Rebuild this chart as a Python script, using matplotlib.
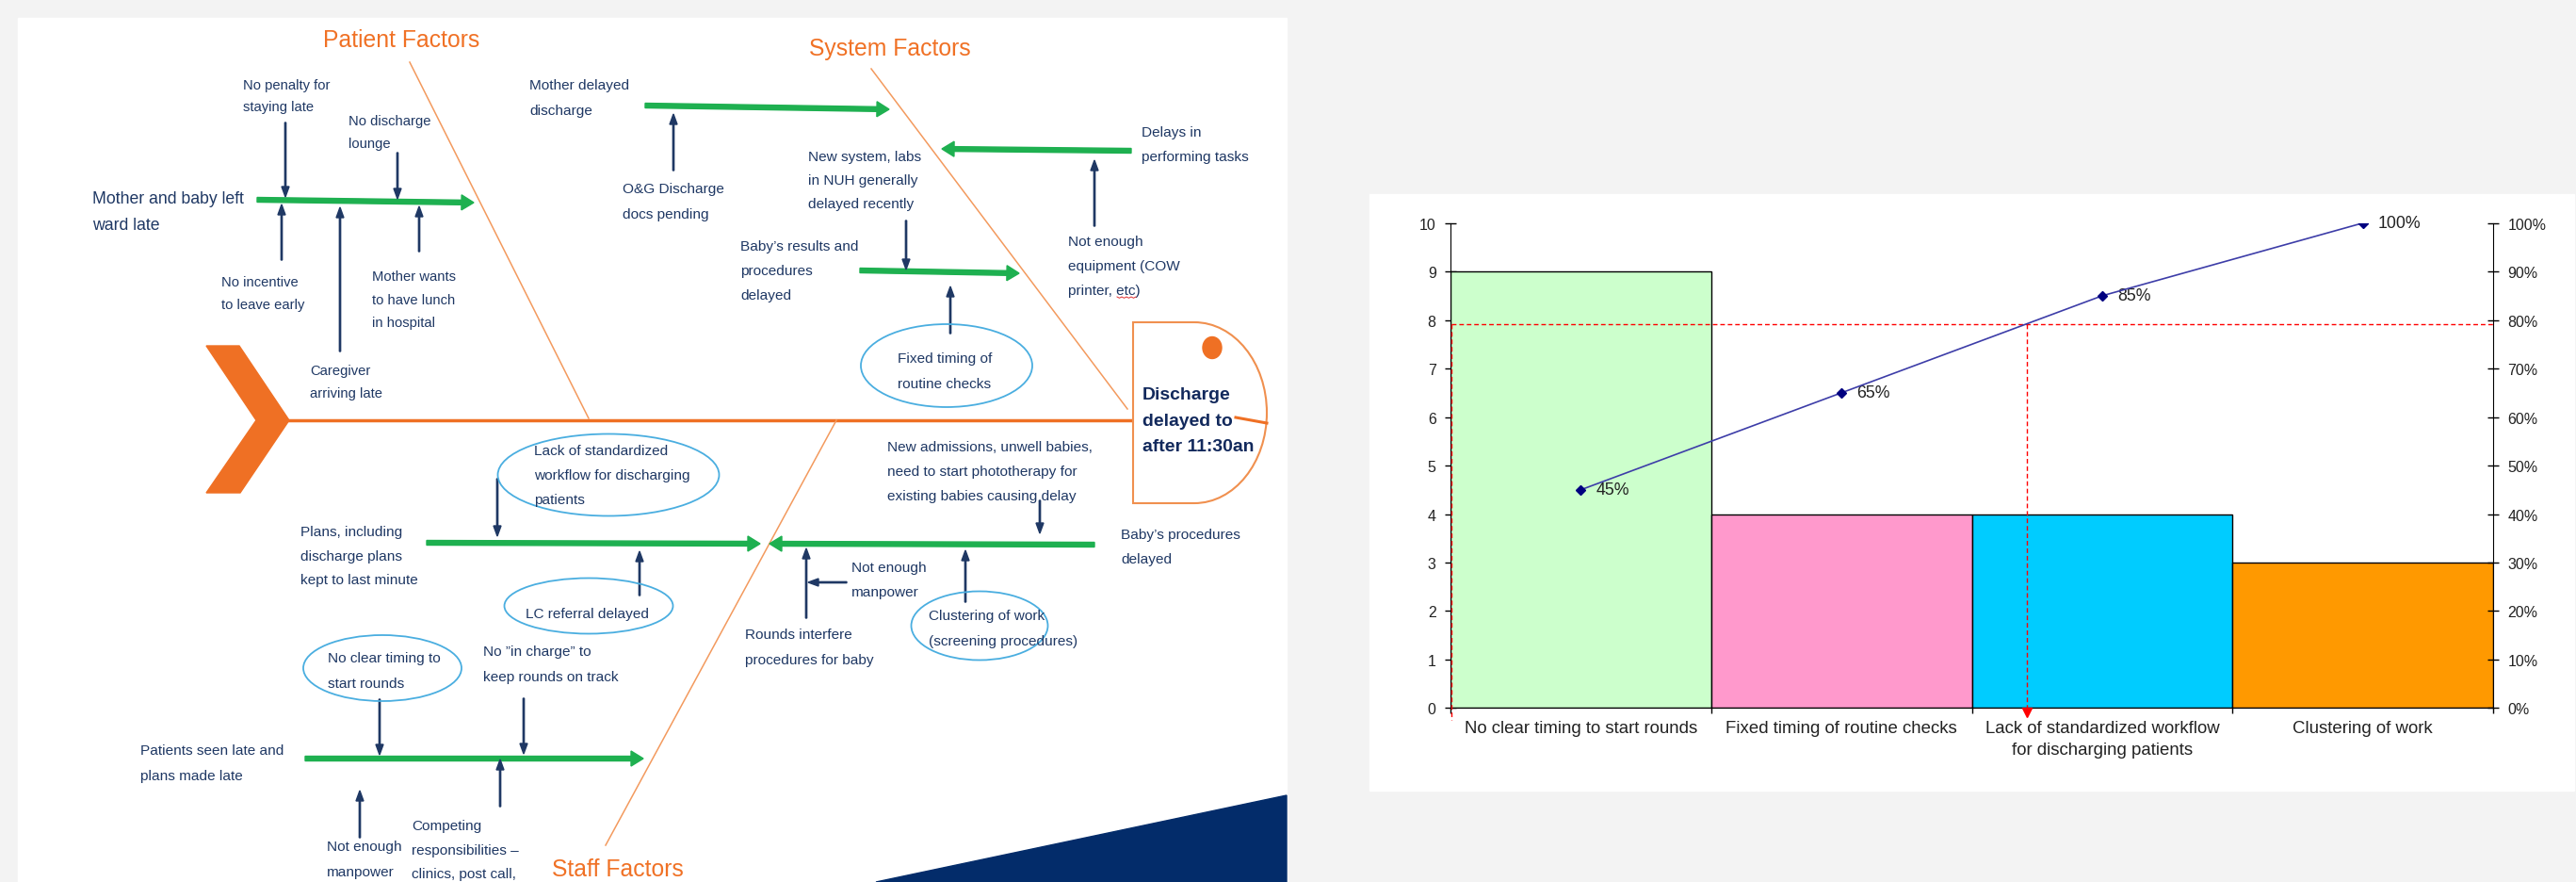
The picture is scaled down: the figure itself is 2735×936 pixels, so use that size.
import numpy as np
import matplotlib
matplotlib.use("Agg")
import matplotlib.pyplot as plt
from matplotlib import font_manager as fm
from matplotlib.patches import Polygon, Ellipse, Rectangle, PathPatch
from matplotlib.path import Path

# ---- pareto data ----
causes = ["No clear timing to start rounds", "Fixed timing of routine checks",
          "Lack of standardized workflow\nfor discharging patients", "Clustering of work"]
counts = [9, 4, 4, 3]
cum_pct = [45, 65, 85, 100]
cutoff_pct = 79.2
bar_colors = ["#ccffcc", "#ff99cc", "#00ccff", "#ff9900"]

# ---- fishbone text ----
headings = ["Patient Factors", "System Factors", "Staff Factors"]
effect = "Discharge\ndelayed to\nafter 11:30an"

W, H = 2735, 937
NAVY = "#1f3864"
GREEN = "#1eb050"
ORANGE = "#ef7024"
BONE = "#f39a5e"
BLUE = "#4aaee0"
ARIAL = ["Liberation Sans", "DejaVu Sans"]


def has_font(name):
    try:
        fm.findfont(fm.FontProperties(family=name), fallback_to_default=False)
        return True
    except ValueError:
        return False


# the slide text is a narrow face; fall back to Arial metrics scaled down to keep widths
if has_font("Liberation Sans Narrow"):
    NARROW, WS = ["Liberation Sans Narrow"], 1.0
else:
    NARROW, WS = ["Liberation Sans"], 0.82

fig = plt.figure(figsize=(W / 100, H / 100), dpi=100, facecolor="#f3f3f3")
ax = fig.add_axes([0, 0, 1, 1])
ax.set_xlim(0, W)
ax.set_ylim(H, 0)
ax.axis("off")

# panels
ax.add_patch(Rectangle((19, 20), 1347, H - 20, color="white", zorder=0))
ax.add_patch(Rectangle((1454, 207), 1279, 633, color="white", zorder=0))
ax.add_patch(Polygon([(930, H), (1366, 845), (1366, H)], color="#032c6a", zorder=1))


def lab(x, y, text, dy=26, size=13.5, ha="left", color=NAVY, weight="normal"):
    for i, s in enumerate(text.split("\n")):
        ax.text(x, y + i * dy, s, fontsize=size * WS, family=NARROW, color=color, ha=ha,
                va="center_baseline", fontweight=weight, zorder=5)


def garrow(x0, y0, x1, y1):
    ax.arrow(x0, y0, x1 - x0, y1 - y0, width=5, head_width=16, head_length=13,
             length_includes_head=True, color=GREEN, zorder=3)


def navy_arrow(x0, y0, x1, y1):
    ax.arrow(x0, y0, x1 - x0, y1 - y0, width=1.3, head_width=8, head_length=11,
             length_includes_head=True, color=NAVY, zorder=4)


# spine, chevron, bones
ax.add_patch(Polygon([(219, 368), (254, 368), (307, 447), (255, 524), (219, 524), (272, 447)],
                     color=ORANGE, zorder=2))
ax.plot([305, 1203], [447, 447], color=ORANGE, lw=2.5, zorder=2)
ax.plot([435, 625], [67, 445], color=BONE, lw=1.1, zorder=2)
ax.plot([925, 1197], [74, 435], color=BONE, lw=1.1, zorder=2)
ax.plot([888, 643], [447, 898], color=BONE, lw=1.1, zorder=2)

# head
cx, rx, top, bot = 1268, 77, 343, 535
cy, ry = (top + bot) / 2, (bot - top) / 2
k = 0.5523
verts = [(1203, top), (cx, top), (cx + k * rx, top), (cx + rx, cy - k * ry), (cx + rx, cy),
         (cx + rx, cy + k * ry), (cx + k * rx, bot), (cx, bot), (1203, bot), (1203, top)]
codes = [Path.MOVETO, Path.LINETO, Path.CURVE4, Path.CURVE4, Path.CURVE4,
         Path.CURVE4, Path.CURVE4, Path.CURVE4, Path.LINETO, Path.CLOSEPOLY]
ax.add_patch(PathPatch(Path(verts, codes), facecolor="white", edgecolor="#f0904f", lw=1.5, zorder=2))
ax.add_patch(Ellipse((1287, 370), 20, 23, color=ORANGE, zorder=3))
ax.plot([1312, 1345], [444, 450], color=ORANGE, lw=2.2, zorder=3)
lab(1213, 418, effect, dy=27.5, size=17, weight="bold", color="#12295c")

# headings
for s, (x, y) in zip(headings, [(426, 41), (945, 50), (656, 921)]):
    ax.text(x, y, s, fontsize=21.7 * WS, family=NARROW, color="#f07125", ha="center",
            va="center_baseline", zorder=5)

# green cause arrows
for a in [(273, 213, 503, 216), (685, 113, 944, 117), (1201, 161, 1000, 159),
          (913, 288, 1082, 291), (453, 577, 807, 578), (1162, 579, 817, 578),
          (324, 806, 683, 806)]:
    garrow(*a)

# small navy arrows
for a in [(303, 131, 303, 210), (422, 163, 422, 212), (299, 277, 299, 218),
          (361, 374, 361, 221), (445, 268, 445, 220), (715, 182, 715, 122),
          (1162, 241, 1162, 171), (962, 235, 962, 287), (1009, 355, 1009, 305),
          (528, 509, 528, 570), (679, 633, 679, 586), (403, 743, 403, 802),
          (556, 742, 556, 801), (382, 890, 382, 840), (531, 857, 531, 807),
          (1104, 532, 1104, 567), (856, 657, 856, 583), (899, 619, 858, 619),
          (1025, 640, 1025, 585)]:
    navy_arrow(*a)

# ellipses
for (x, y, w, h) in [(1005, 389, 182, 88), (646, 505, 235, 87), (625, 644, 179, 59),
                     (406, 710, 168, 70), (1040, 665, 145, 73)]:
    ax.add_patch(Ellipse((x, y), w, h, facecolor="none", edgecolor=BLUE, lw=1.3, zorder=4))

# labels
lab(98, 210, "Mother and baby left\nward late", dy=27.3, size=15.5)
lab(258, 89, "No penalty for\nstaying late", dy=23.4, size=13)
lab(370, 127, "No discharge\nlounge", dy=24, size=13)
lab(235, 299, "No incentive\nto leave early", dy=23.3, size=13)
lab(329, 393, "Caregiver\narriving late", dy=23.3, size=13)
lab(395, 293, "Mother wants\nto have lunch\nin hospital", dy=24.2, size=13)
lab(562, 90, "Mother delayed\ndischarge", dy=26.7)
lab(661, 200, "O&G Discharge\ndocs pending", dy=26.7)
lab(1212, 139, "Delays in\nperforming tasks", dy=26.4)
lab(1134, 256, "Not enough\nequipment (COW\nprinter, etc)", dy=25.6)
lab(858, 165, "New system, labs\nin NUH generally\ndelayed recently", dy=25.5)
lab(786, 261, "Baby\u2019s results and\nprocedures\ndelayed", dy=25.8)
lab(1003, 380, "Fixed timing of\nroutine checks", dy=26.7, ha="center")
lab(567, 478, "Lack of standardized\nworkflow for discharging\npatients", dy=25.9)
lab(623, 651, "LC referral delayed", ha="center")
lab(348, 698, "No clear timing to\nstart rounds", dy=26.7)
lab(319, 564, "Plans, including\ndischarge plans\nkept to last minute", dy=25.4)
lab(513, 691, "No \u201din charge\u201d to\nkeep rounds on track", dy=26.3)
lab(149, 796, "Patients seen late and\nplans made late", dy=26.6)
lab(347, 898, "Not enough\nmanpower", dy=26.7)
lab(437, 876, "Competing\nresponsibilities \u2013\nclinics, post call,", dy=25.4)
lab(1190, 567, "Baby\u2019s procedures\ndelayed", dy=26)
lab(942, 474, "New admissions, unwell babies,\nneed to start phototherapy for\nexisting babies causing delay", dy=25.9)
lab(904, 602, "Not enough\nmanpower", dy=26)
lab(791, 673, "Rounds interfere\nprocedures for baby", dy=26.6)
lab(986, 653, "Clustering of work\n(screening procedures)", dy=26.7)

# spell-check squiggle under "etc"
sq_x = np.linspace(1186, 1206, 9)
ax.plot(sq_x, 316 + 1.3 * (np.arange(9) % 2), color="#e03030", lw=0.7, zorder=5)

# ---- pareto chart ----
x0, x1, ytop, ybot = 1540, 2647, 237.7, 752.4
pa = fig.add_axes([x0 / W, (H - ybot) / H, (x1 - x0) / W, (ybot - ytop) / H])
pa.patch.set_visible(False)
xs = np.arange(len(counts))
pa.bar(xs, counts, width=1.0, color=bar_colors, edgecolor="black", linewidth=1, zorder=2)
pa.set_xlim(-0.5, len(counts) - 0.5)
pa.set_ylim(0, 10)
pa.set_yticks(range(0, 11))
pa.set_xticks(np.arange(-0.5, len(counts)), labels=[])
pa.set_xticks(xs, labels=causes, minor=True)
pa.tick_params(axis="x", which="major", direction="out", length=4, width=1)
pa.tick_params(axis="x", which="minor", length=0, pad=9, labelsize=13.4)
pa.tick_params(axis="y", direction="inout", length=8, width=1, pad=7, labelsize=11.5)
for t in pa.get_xticklabels(minor=True):
    t.set_linespacing(1.45)
for t in pa.get_xticklabels(minor=True) + pa.get_yticklabels():
    t.set_family(ARIAL)
    t.set_color("#222222")
pa.spines["top"].set_visible(False)
pa.spines["right"].set_visible(False)

p2 = pa.twinx()
p2.set_ylim(0, 1)
p2.set_yticks(np.arange(0, 1.01, 0.1), labels=[f"{v}%" for v in range(0, 101, 10)])
p2.tick_params(axis="y", direction="inout", length=8, width=1, pad=7, labelsize=11.5)
for t in p2.get_yticklabels():
    t.set_family(ARIAL)
    t.set_color("#222222")
p2.spines["top"].set_visible(False)
p2.spines["left"].set_visible(False)

cum = np.array(cum_pct) / 100
cut = cutoff_pct / 100
x_cut = np.interp(cut, cum, xs)
dash = (0, (3.5, 2.2))
p2.plot([-0.496, len(counts) - 0.5], [cut, cut], color="red", lw=1, ls=dash, zorder=3)
p2.plot([-0.496, -0.496], [cut, -0.025], color="red", lw=1, ls=dash, clip_on=False, zorder=3)
p2.plot([x_cut, x_cut], [cut, 0], color="red", lw=1, ls=dash, zorder=3)
p2.plot([x_cut], [-0.009], marker="v", color="red", ms=7, clip_on=False, zorder=3)
p2.plot(xs, cum, color="#3d3da8", lw=1.2, marker="D", ms=5, mfc="#000080", mec="#000080", zorder=4)
for xi, v in zip(xs, cum_pct):
    p2.annotate(f"{v}%", (xi, v / 100), xytext=(11.5, 0), textcoords="offset points",
                va="center", ha="left", fontsize=12.8, family=ARIAL, color="#222222")

fig.savefig("out.png", dpi=100, facecolor=fig.get_facecolor())
